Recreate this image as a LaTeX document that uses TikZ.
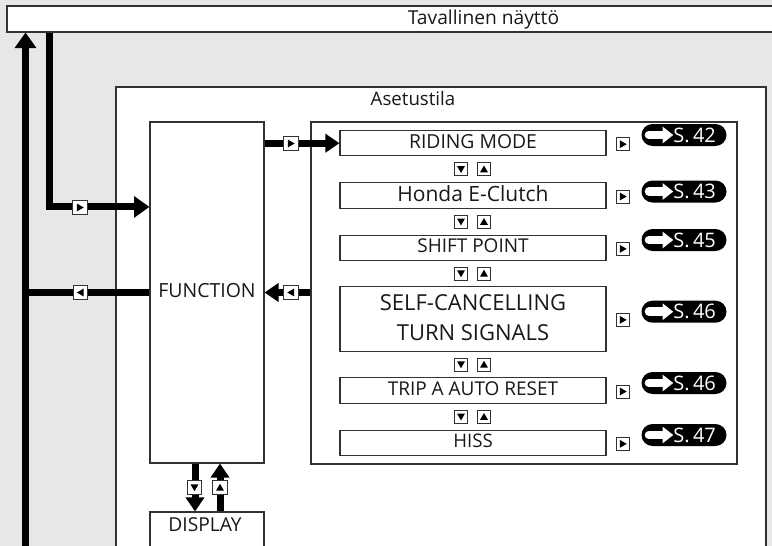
\documentclass[tikz,border=0pt]{standalone}
\usepackage{fontspec}
\setmainfont{Open Sans}
\usetikzlibrary{arrows.meta}
\definecolor{bgc}{RGB}{230,231,232}
\definecolor{bd}{RGB}{50,50,50}
\definecolor{txt}{RGB}{25,25,25}
\newcommand\fsz[2]{\fontsize{#1}{#2}\selectfont}
\tikzset{
  box/.style={draw=bd, line width=0.8pt, fill=white, inner sep=0pt, text=txt},
  itm/.style={box, minimum width=199.5pt, minimum height=19.1pt, text height=10pt, text depth=2.4pt, font=\fsz{14.5pt}{17pt}},
  flow/.style={line width=5.25pt, draw=black},
  bigtip/.style={-{Triangle[length=11.6pt,width=15.6pt]}},
  smalltip/.style={-{Triangle[length=10.5pt,width=13.5pt]}},
  mk/.style={draw=bd, fill=white, line width=0.6pt, minimum width=11pt, minimum height=10.5pt, inner sep=0pt},
  mks/.style={mk, minimum width=10.3pt, minimum height=9.8pt},
  mkR/.style={path picture={\fill[black] ([shift={(-2.3pt,2.9pt)}]path picture bounding box.center) -- ([shift={(-2.3pt,-2.9pt)}]path picture bounding box.center) -- ([shift={(2.8pt,0pt)}]path picture bounding box.center) -- cycle;}},
  mkL/.style={path picture={\fill[black] ([shift={(2.3pt,2.9pt)}]path picture bounding box.center) -- ([shift={(2.3pt,-2.9pt)}]path picture bounding box.center) -- ([shift={(-2.8pt,0pt)}]path picture bounding box.center) -- cycle;}},
  mkD/.style={path picture={\fill[black] ([shift={(-3pt,2.4pt)}]path picture bounding box.center) -- ([shift={(3pt,2.4pt)}]path picture bounding box.center) -- ([shift={(0pt,-2.8pt)}]path picture bounding box.center) -- cycle;}},
  mkU/.style={path picture={\fill[black] ([shift={(-3pt,-2.4pt)}]path picture bounding box.center) -- ([shift={(3pt,-2.4pt)}]path picture bounding box.center) -- ([shift={(0pt,2.8pt)}]path picture bounding box.center) -- cycle;}},
  pill/.style={fill=black, rounded corners=8.25pt, minimum width=63.75pt, minimum height=16.5pt, inner sep=0pt, text=white, font=\fsz{15pt}{17pt},
    path picture={
      \draw[white, sharp corners, line width=6.6pt, line cap=round] ([xshift=5.7pt]path picture bounding box.west) -- ([xshift=16.5pt]path picture bounding box.west);
      \fill[white, sharp corners] ([shift={(15.8pt,6.3pt)}]path picture bounding box.west) -- ([shift={(23.8pt,0pt)}]path picture bounding box.west) -- ([shift={(15.8pt,-6.3pt)}]path picture bounding box.west) -- cycle;}},
  lbl/.style={anchor=base, inner sep=0pt, text=txt}
}
\begin{document}
\begin{tikzpicture}[x=0.75pt, y=-0.75pt]
\useasboundingbox (0,0) rectangle (772,546);
\fill[bgc] (0,0) rectangle (772,546);
\clip (0,0) rectangle (772,546);

% containers
\node[box, minimum width=587.25pt, minimum height=19.5pt] (tav) at (398.5,19) {};
\node[lbl, font=\fsz{14.4pt}{16pt}] (tavt) at (483.5,25) {Tavallinen näyttö};
\node[box, minimum width=487.5pt, minimum height=384.75pt] (aset) at (441,343.5) {};
\node[lbl, font=\fsz{14pt}{16pt}] (asett) at (413,105) {Asetustila};
\node[box, minimum width=319.5pt, minimum height=256.5pt] (inner) at (524,293) {};
\node[box, minimum width=85.5pt, minimum height=255.75pt, text height=10.5pt, text depth=2.3pt, font=\fsz{14.6pt}{17pt}] (func) at (207,292.5) {FUNCTION};
\node[box, minimum width=85.5pt, minimum height=66pt] (disp) at (207,556) {};
\node[lbl, font=\fsz{14.4pt}{17pt}] (dispt) at (205,531.7) {DISPLAY};

% items
\node[itm] (r1) at (473,143.2) {RIDING MODE};
\node[itm, font=\fsz{15.75pt}{18pt}, text height=11pt, text depth=1.7pt] (r2) at (473,195.5) {Honda E-Clutch};
\node[itm, font=\fsz{14.25pt}{17pt}] (r3) at (473,247.85) {SHIFT POINT};
\node[itm, minimum height=48.4pt, align=center, font=\fsz{16.5pt}{22.5pt}, text height=31.8pt, text depth=0pt] (r4) at (473,318.85) {SELF-CANCELLING\\TURN SIGNALS};
\node[itm, font=\fsz{14.25pt}{17pt}, text depth=3.2pt] (r5) at (473,390.5) {TRIP A AUTO RESET};
\node[itm, font=\fsz{14pt}{17pt}] (r6) at (473,442.85) {HISS};

% flows
\coordinate (lb) at (25.5,570);
\coordinate (lb2) at (49.5,100);
\draw[flow,bigtip] (lb) -- (lb |- tav.south);
\draw[flow,bigtip] (tav.south -| lb2) |- ([yshift=-64.1pt]func.north west);
\draw[flow] (func.west) -- (func.west -| lb);
\draw[flow,smalltip] (func.east |- r1.west) -- (r1.west);
\draw[flow,smalltip] (inner.west |- func.east) -- (func.east);
\draw[flow,smalltip] ([xshift=-9pt]func.south) -- ([xshift=-9pt]func.south |- disp.north);
\draw[flow,smalltip] ([xshift=9.75pt]func.south |- disp.north) -- ([xshift=9.75pt]func.south);

% markers on flows
\node[mk,mkR] (m1) at (80,207.5) {};
\node[mk,mkL] (m2) at (80.5,292.5) {};
\node[mk,mkR] (m3) at (291,143.5) {};
\node[mk,mkL] (m4) at (291,292.5) {};
\node[mk,mkD] (m5) at (194.5,487.5) {};
\node[mk,mkU] (m6) at (220,487.5) {};

% up/down markers between items
\foreach \y [count=\i] in {169.2,221.7,273.5,364.5,416.7}{
  \node[mks,mkD] (d\i) at (461,\y) {};
  \node[mks,mkU] (u\i) at (484,\y) {};
}

% right markers and page pills
\foreach \n/\yb/\yp/\pg in {r1/144.2/135/42, r2/196.5/191.5/43, r3/248.85/240/45, r4/319.85/311.7/46, r5/391.5/383/46, r6/443.85/435/47}{
  \node[mks,mkR] (q\n) at (623,\yb) {};
  \node[pill] (p\n) at (684,\yp) {\hspace*{16pt}S.\,\pg};
}
\end{tikzpicture}
\end{document}
